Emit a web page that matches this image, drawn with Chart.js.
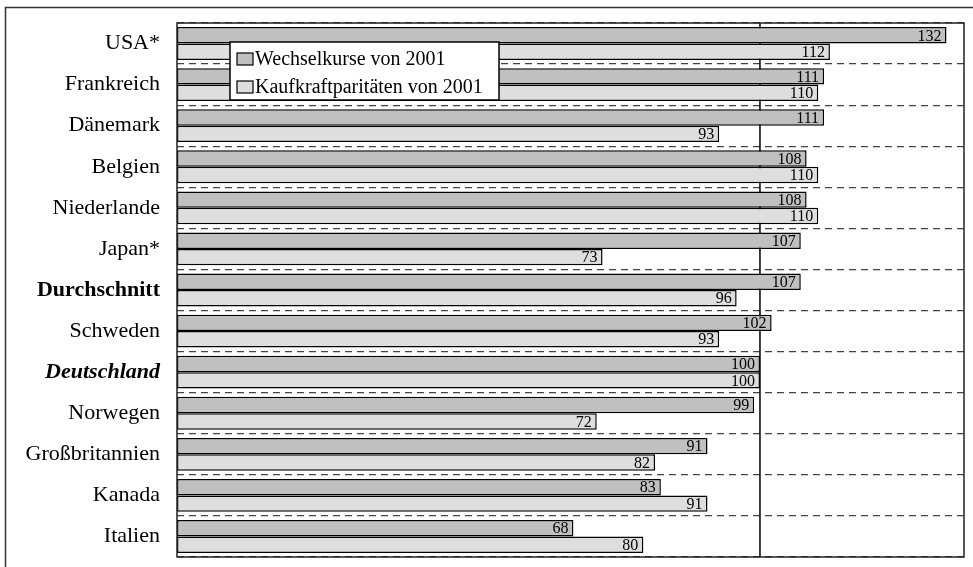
<!DOCTYPE html>
<html>
<head>
<meta charset="utf-8">
<script src="https://cdn.jsdelivr.net/npm/chart.js@4.4.0/dist/chart.umd.min.js"></script>
<style>
    body { margin: 0; background: #fff; }
    #wrap { position: relative; width: 973px; height: 567px; }
</style>
</head>
<body>
<div id="wrap"><canvas id="lohnChart"></canvas></div>
<script>
const laender = ['USA*', 'Frankreich', 'Dänemark', 'Belgien', 'Niederlande', 'Japan*', 'Durchschnitt',
    'Schweden', 'Deutschland', 'Norwegen', 'Großbritannien', 'Kanada', 'Italien'];
const wechselkurse = [132, 111, 111, 108, 108, 107, 107, 102, 100, 99, 91, 83, 68];
const kaufkraft = [112, 110, 93, 110, 110, 73, 96, 93, 100, 72, 82, 91, 80];
const referenzWert = 100;

const serif = '"Liberation Serif", "Times New Roman", serif';

// Rahmen, Linie bei 100, Werte und Legende
const extras = {
    id: 'extras',
    beforeDraw(chart) {
        const ctx = chart.ctx;
        ctx.save();
        ctx.strokeStyle = '#333';
        ctx.lineWidth = 1.5;
        ctx.beginPath();
        ctx.moveTo(5.5, 567);
        ctx.lineTo(5.5, 7.5);
        ctx.lineTo(973, 7.5);
        ctx.stroke();
        ctx.restore();
    },
    beforeDatasetsDraw(chart) {
        const ctx = chart.ctx;
        const area = chart.chartArea;
        const x = chart.scales.x.getPixelForValue(referenzWert);
        ctx.save();
        ctx.strokeStyle = '#000';
        ctx.lineWidth = 1.5;
        ctx.beginPath();
        ctx.moveTo(x, area.top);
        ctx.lineTo(x, area.bottom);
        ctx.stroke();
        ctx.restore();
    },
    afterDatasetsDraw(chart) {
        const ctx = chart.ctx;
        const area = chart.chartArea;
        ctx.save();
        ctx.font = '16px ' + serif;
        ctx.fillStyle = '#000';
        ctx.textAlign = 'right';
        ctx.textBaseline = 'middle';
        chart.data.datasets.forEach((ds, i) => {
            chart.getDatasetMeta(i).data.forEach((bar, j) => {
                ctx.fillText(ds.data[j], bar.x - 5, bar.y + 1);
            });
        });
        // Rahmen des Diagrammbereichs
        ctx.strokeStyle = '#222';
        ctx.lineWidth = 1.5;
        ctx.strokeRect(area.left, area.top, area.right - area.left, area.bottom - area.top);

        // Legende
        const lx = 230, ly = 42, lw = 269, lh = 58;
        ctx.fillStyle = '#fff';
        ctx.fillRect(lx, ly, lw, lh);
        ctx.strokeStyle = '#000';
        ctx.lineWidth = 1.5;
        ctx.strokeRect(lx, ly, lw, lh);
        ctx.font = '20px ' + serif;
        ctx.textAlign = 'left';
        chart.data.datasets.forEach((ds, i) => {
            const cy = ly + 17 + i * 28;
            ctx.fillStyle = ds.backgroundColor;
            ctx.fillRect(lx + 7, cy - 6, 16, 12);
            ctx.strokeStyle = '#000';
            ctx.lineWidth = 1.2;
            ctx.strokeRect(lx + 7, cy - 6, 16, 12);
            ctx.fillStyle = '#000';
            ctx.fillText(ds.label, lx + 25, cy + 1);
        });
        ctx.restore();
    }
};

new Chart(document.getElementById('lohnChart'), {
    type: 'bar',
    data: {
        labels: laender,
        datasets: [{
            label: 'Wechselkurse von 2001',
            data: wechselkurse,
            backgroundColor: '#c0c0c0',
            borderColor: '#000',
            borderWidth: 1.5,
            borderSkipped: false,
            barPercentage: 1.0,
            categoryPercentage: 0.8
        }, {
            label: 'Kaufkraftparitäten von 2001',
            data: kaufkraft,
            backgroundColor: '#dedede',
            borderColor: '#000',
            borderWidth: 1.5,
            borderSkipped: false,
            barPercentage: 1.0,
            categoryPercentage: 0.8
        }]
    },
    options: {
        indexAxis: 'y',
        responsive: true,
        maintainAspectRatio: false,
        animation: false,
        layout: {
            padding: { left: 0, top: 23, right: 9, bottom: 10 }
        },
        scales: {
            x: {
                display: false,
                min: 0,
                max: 135
            },
            y: {
                afterFit(scale) {
                    scale.width = 177;
                    scale.paddingTop = 0;
                    scale.paddingBottom = 0;
                },
                grid: {
                    offset: true,
                    drawTicks: false,
                    color: '#444',
                    lineWidth: 1.2
                },
                border: {
                    display: false,
                    dash: [7, 5]
                },
                ticks: {
                    padding: 17,
                    color: '#000',
                    font: (c) => {
                        const lbl = laender[c.index];
                        if (lbl === 'Durchschnitt') return { family: serif, size: 22, weight: 'bold' };
                        if (lbl === 'Deutschland') return { family: serif, size: 22, weight: 'bold', style: 'italic' };
                        return { family: serif, size: 22 };
                    }
                }
            }
        },
        plugins: {
            legend: { display: false },
            tooltip: { enabled: false }
        }
    },
    plugins: [extras]
});
</script>
</body>
</html>
